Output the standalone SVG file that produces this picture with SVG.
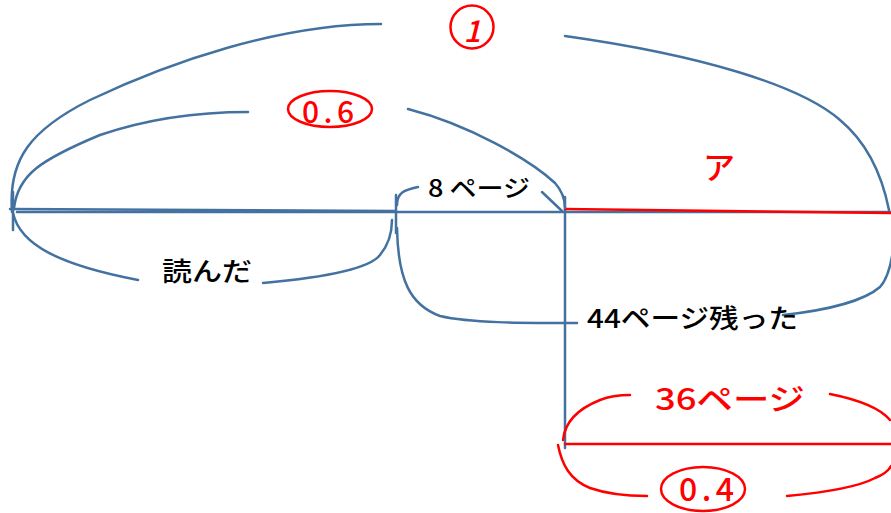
<svg xmlns="http://www.w3.org/2000/svg" width="891" height="513" viewBox="0 0 891 513">
<style>
.b{fill:none;stroke:#4472A0;stroke-width:2.5;stroke-linecap:round}
.r{fill:none;stroke:#FF0000;stroke-width:2.5;stroke-linecap:round}
.t{font-family:"Noto Sans CJK JP","Noto Sans",sans-serif;fill:#000;font-weight:500}
.rt{font-family:"Noto Sans CJK JP","Noto Sans",sans-serif;fill:#FF0000;font-weight:500}
</style>
<rect width="891" height="513" fill="#fff"/>
<g id="connectors">
<path class="b" d="M17,212 L891,212" stroke-width="2"/>
<path class="b" d="M10,209 L395,211" stroke-width="4"/>
<path class="b" d="M13,192 L13,230"/>
<path class="b" d="M396,195 L396,233"/>
<path class="b" d="M565,197 L565,448"/>
<path class="r" d="M565,209 L891,213" stroke-width="4"/>
<path class="r" d="M565,444 L891,444"/>
</g>
<g id="whole">
<path class="b" d="M12,212 C8,160 30,130 90,100 C170,62 280,24 381,24"/>
<path class="b" d="M565,36 C700,55 800,85 840,120 C870,145 883,180 889,210"/>
<circle class="r" cx="472" cy="27" r="21.5"/>
<text class="rt" x="472" y="42" font-size="30" font-style="italic" text-anchor="middle">1</text>
</g>
<g id="read-ratio">
<path class="b" d="M14,208 C18,175 40,160 100,135 C150,118 200,112 248,112"/>
<path class="b" d="M408,109 C470,125 530,160 555,183 C563,192 565,200 565,208"/>
<ellipse class="r" cx="330" cy="109" rx="42" ry="18"/>
<text class="rt" x="302" y="123" font-size="30" textLength="52" lengthAdjust="spacing">0.6</text>
</g>
<g id="eight-pages">
<path class="b" d="M397,205 C397,192 405,190 418,187"/>
<path class="b" d="M542,192 L562,211"/>
<text class="t" x="428" y="197" font-size="24" textLength="102" lengthAdjust="spacingAndGlyphs">8 ページ</text>
</g>
<g id="read">
<path class="b" d="M13,213 C20,245 60,265 138,280"/>
<path class="b" d="M263,283 C330,277 370,268 380,255 C390,243 392,230 392,220"/>
<text class="t" x="162" y="281" font-size="26" textLength="90" lengthAdjust="spacingAndGlyphs">読んだ</text>
</g>
<g id="remaining">
<path class="b" d="M397,228 C398,280 410,305 440,316 C470,323 520,323 577,323"/>
<path class="b" d="M783,315 C830,310 865,300 880,287 C888,278 891,265 893,250"/>
<text class="t" x="587" y="328" font-size="26" textLength="211" lengthAdjust="spacingAndGlyphs">44ページ残った</text>
</g>
<g id="a">
<text class="rt" x="719" y="179" font-size="32" text-anchor="middle">ア</text>
</g>
<g id="thirty-six">
<path class="r" d="M563,440 C565,420 580,408 600,400 C610,396 620,395 630,395"/>
<path class="r" d="M830,394 C860,400 880,408 890,420"/>
<text class="rt" x="655" y="410" font-size="30" textLength="150" lengthAdjust="spacingAndGlyphs">36ページ</text>
</g>
<g id="zero-four">
<path class="r" d="M558,445 C562,465 570,480 590,488 C610,495 630,496 647,496"/>
<path class="r" d="M787,496 C830,492 860,486 875,478 C885,474 889,470 891,466"/>
<ellipse class="r" cx="703" cy="489" rx="42" ry="22"/>
<text class="rt" x="679" y="501" font-size="32" textLength="55" lengthAdjust="spacing">0.4</text>
</g>
</svg>
